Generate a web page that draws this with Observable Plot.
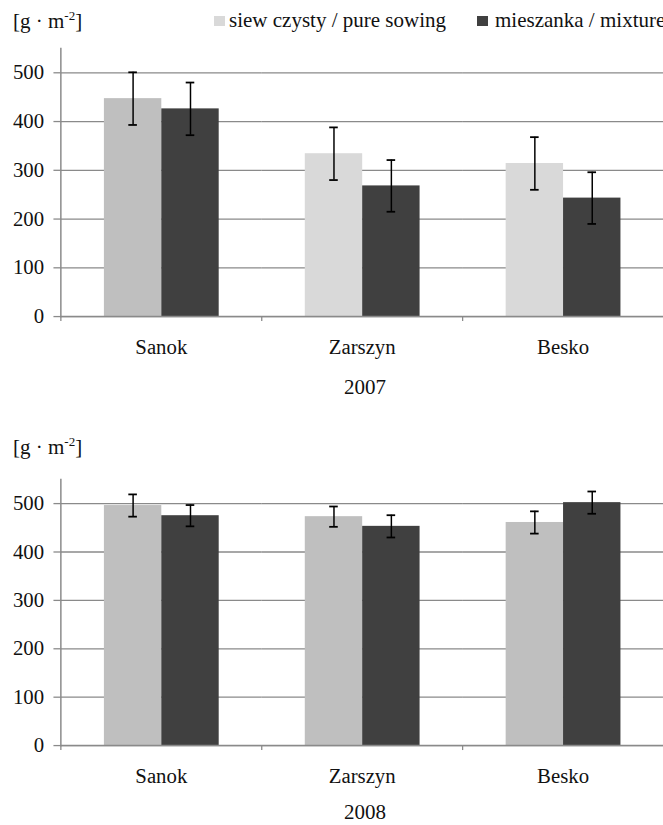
<!DOCTYPE html>
<html>
<head>
<meta charset="utf-8">
<script src="https://cdn.jsdelivr.net/npm/d3@7"></script>
<script src="https://cdn.jsdelivr.net/npm/@observablehq/plot@0.6"></script>
<style>
  html, body { margin: 0; padding: 0; background: #fff; overflow: hidden; }
  #page { position: relative; width: 663px; height: 825px; overflow: hidden;
          font-family: "Liberation Serif", "Times New Roman", Times, serif; font-size: 21px; color: #111; }
  .abs { position: absolute; white-space: nowrap; line-height: 21px; }
  .sup { font-size: 13px; position: relative; top: -8px; }
  .sw { position: absolute; width: 11px; height: 10px; }
  .chart { position: absolute; left: 0; }
  .center { transform: translateX(-50%); }
  svg text { font-family: "Liberation Serif", "Times New Roman", Times, serif !important; }
</style>
</head>
<body>
<div id="page">
  <div class="abs" style="left:13px; top:11px;">[g · m<span class="sup">-2</span>]</div>
  <div class="sw" style="left:214px; top:16px; background:#d9d9d9;"></div>
  <div class="abs" style="left:229px; top:10px;">siew czysty / pure sowing</div>
  <div class="sw" style="left:477px; top:16px; background:#404040;"></div>
  <div class="abs" style="left:495px; top:10px;">mieszanka / mixture</div>
  <div id="c1" class="chart" style="top:40px;"></div>
  <div id="y1" class="abs center" style="left:365px; top:377px;"></div>

  <div class="abs" style="left:13px; top:437px;">[g · m<span class="sup">-2</span>]</div>
  <div id="c2" class="chart" style="top:470px;"></div>
  <div id="y2" class="abs center" style="left:365px; top:802px;"></div>
</div>
<script>
// ---- data ----
const sites = ["Sanok", "Zarszyn", "Besko"];
const seriesKeys = ["pure", "mix"];
const yTicks = [0, 100, 200, 300, 400, 500];
const years = ["2007", "2008"];

const pure2007 = [447, 334, 314];
const pure2007Err = [54, 54, 54];
const mix2007 = [426, 268, 243];
const mix2007Err = [54, 53, 53];

const pure2008 = [496, 473, 461];
const pure2008Err = [23, 21, 23];
const mix2008 = [475, 453, 502];
const mix2008Err = [22, 23, 23];

// ---- styles ----
const mixColor = "#404040";
const pureShade2007 = ["#bfbfbf", "#d9d9d9", "#d9d9d9"];
const pureShade2008 = ["#bfbfbf", "#bfbfbf", "#bfbfbf"];
const gridColor = "#8a8a8a";
const fontStack = "'Liberation Serif', 'Times New Roman', Times, serif";

function rows(pure, pureErr, mix, mixErr) {
  return sites.flatMap((s, i) => [
    {site: s, series: "pure", value: pure[i], err: pureErr[i], idx: i},
    {site: s, series: "mix", value: mix[i], err: mixErr[i], idx: i}
  ]);
}

function chart(data, pureShade, height, marginTop, marginBottom) {
  const W = 670, ML = 61;
  const band = (W - ML) / sites.length;
  const outer = 0.74;
  const step = band / (seriesKeys.length + 2 * outer);
  const capInset = (step - 9) / 2;
  return Plot.plot({
    width: W, height, marginLeft: ML, marginRight: 0, marginTop, marginBottom,
    style: {fontFamily: fontStack, fontSize: "21px", color: "#111", background: "transparent"},
    fx: {domain: sites, padding: 0, axis: null},
    x: {domain: seriesKeys, paddingInner: 0, paddingOuter: outer, axis: null},
    y: {domain: [0, 550], axis: null},
    color: {type: "identity"},
    marks: [
      Plot.gridY(yTicks, {stroke: gridColor, strokeOpacity: 1, strokeWidth: 1.3}),
      Plot.barY(data, {fx: "site", x: "series", y: "value",
        fill: d => d.series === "mix" ? mixColor : pureShade[d.idx]}),
      Plot.ruleY([0], {stroke: gridColor, strokeWidth: 1.5}),
      Plot.frame({anchor: "left", facetAnchor: "left", stroke: gridColor, strokeWidth: 1.5}),
      Plot.axisY(yTicks, {anchor: "left", tickSize: 7, tickPadding: 10, stroke: gridColor, strokeWidth: 1.3, fill: "#111", label: null}),
      Plot.axisFx({anchor: "bottom", tickSize: 0, tickPadding: 23, label: null, fill: "#111"}),
      Plot.axisFx({anchor: "bottom", tickSize: 5, text: null, label: null, dx: -band / 2, stroke: gridColor, strokeWidth: 1.3}),
      Plot.ruleX(data, {fx: "site", x: "series", y1: d => d.value - d.err, y2: d => d.value + d.err, stroke: "#000", strokeWidth: 1.5}),
      Plot.tickY(data, {fx: "site", x: "series", y: d => d.value - d.err, insetLeft: capInset, insetRight: capInset, stroke: "#000", strokeWidth: 1.8}),
      Plot.tickY(data, {fx: "site", x: "series", y: d => d.value + d.err, insetLeft: capInset, insetRight: capInset, stroke: "#000", strokeWidth: 1.8})
    ]
  });
}

document.getElementById("c1").append(chart(rows(pure2007, pure2007Err, mix2007, mix2007Err), pureShade2007, 360, 8, 81));
document.getElementById("c2").append(chart(rows(pure2008, pure2008Err, mix2008, mix2008Err), pureShade2008, 355, 9, 77));
document.getElementById("y1").textContent = years[0];
document.getElementById("y2").textContent = years[1];
</script>
</body>
</html>
